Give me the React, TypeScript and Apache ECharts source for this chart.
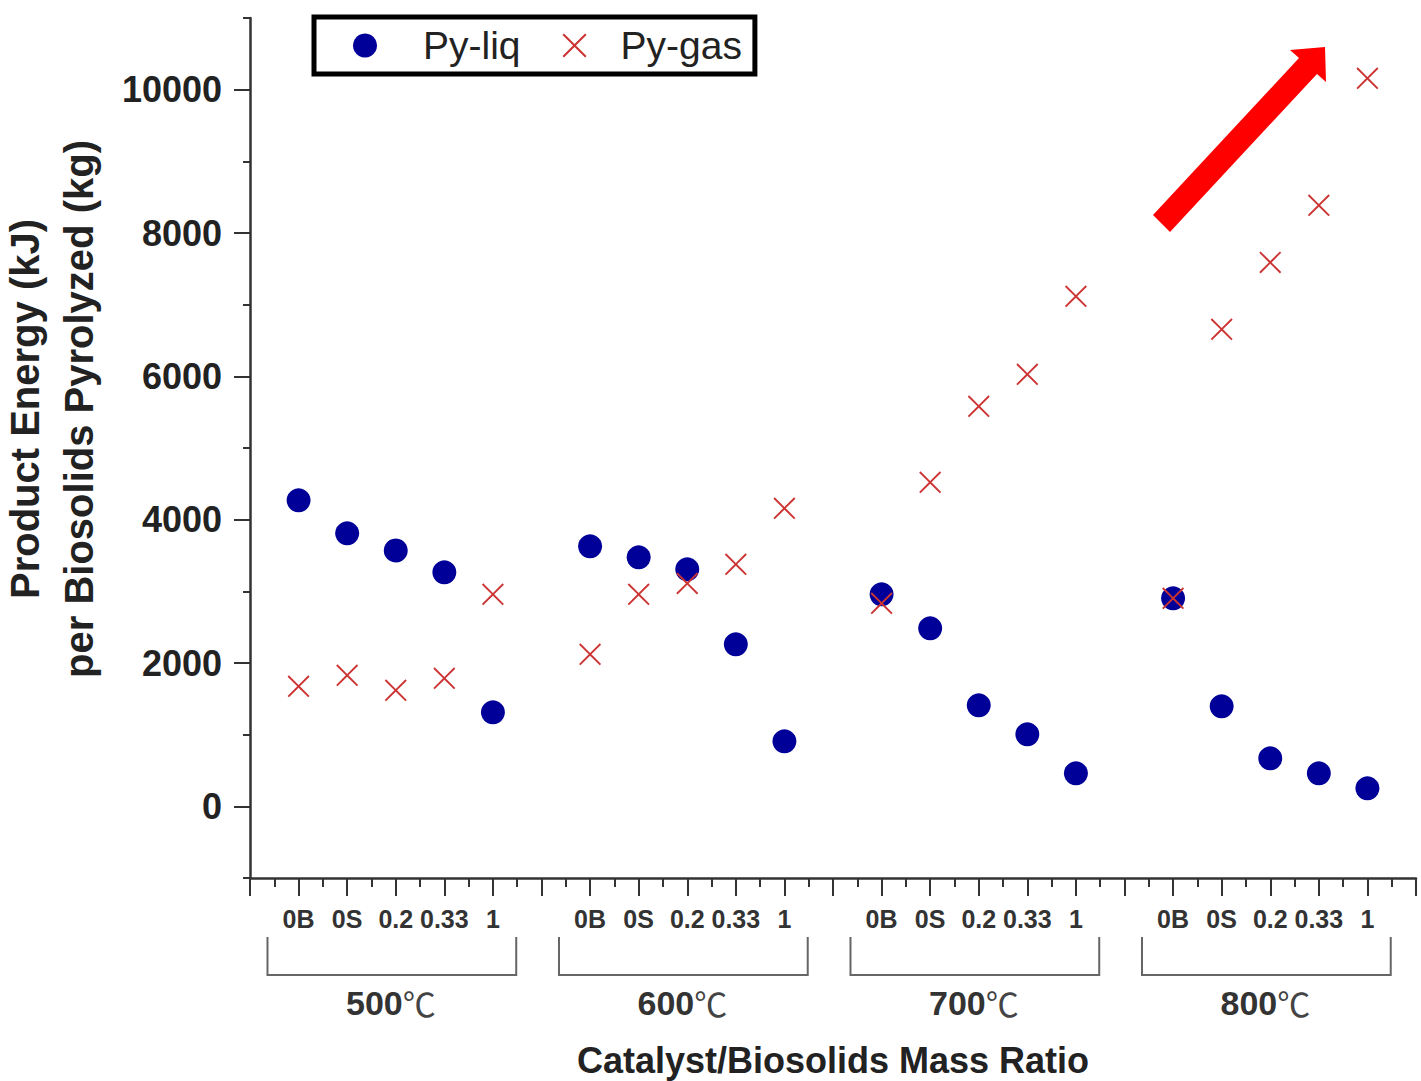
import React, { useEffect, useRef } from 'react';
import * as echarts from 'echarts';

// ---- data ----
const temperatures = ['500', '600', '700', '800'];
const ratios = ['0B', '0S', '0.2', '0.33', '1'];
const pyLiq500 = [4270, 3810, 3570, 3265, 1312];
const pyLiq600 = [3628, 3474, 3307, 2260, 907];
const pyLiq700 = [2958, 2484, 1409, 1005, 460];
const pyLiq800 = [2902, 1395, 670, 460, 251];
const pyGas500 = [1674, 1828, 1619, 1786, 2958];
const pyGas600 = [2121, 2958, 3111, 3377, 4158];
const pyGas700 = [2832, 4521, 5581, 6028, 7116];
const pyGas800 = [2902, 6656, 7590, 8386, 10158];
const yTickValues = [0, 2000, 4000, 6000, 8000, 10000];

const pyLiq = [pyLiq500, pyLiq600, pyLiq700, pyLiq800];
const pyGas = [pyGas500, pyGas600, pyGas700, pyGas800];

const FONT = '"Liberation Sans", Arial, sans-serif';
const X_ICON = 'path://M0,6L6,0L50,44L94,0L100,6L56,50L100,94L94,100L50,56L6,100L0,94L44,50Z';

const groupSize = ratios.length + 1;
const toPoints = (groups: number[][]) =>
  groups.flatMap((row, g) => row.map((v, i) => [g * groupSize + i + 1, v]));

export default function App() {
  const ref = useRef<HTMLDivElement>(null);

  useEffect(() => {
    if (!ref.current) return;
    const chart = echarts.init(ref.current, null, { renderer: 'svg' });
    const xMax = temperatures.length * groupSize;

    const option: any = {
      animation: false,
      backgroundColor: '#ffffff',
      grid: { left: 250, right: 5, top: 18, bottom: 203, containLabel: false, outerBoundsMode: 'none' },
      legend: {
        left: 314,
        top: 17,
        orient: 'horizontal',
        itemWidth: 24,
        itemHeight: 24,
        itemGap: 42,
        padding: [9, 13, 9, 39],
        borderColor: '#000000',
        borderWidth: 5,
        textStyle: { fontSize: 39, color: '#222222', fontFamily: FONT },
        data: [
          { name: 'Py-liq', icon: 'circle', textStyle: { padding: [0, 0, 0, 41] } },
          { name: 'Py-gas', icon: X_ICON, textStyle: { padding: [0, 0, 0, 29] } },
        ],
      },
      xAxis: {
        type: 'value',
        min: 0,
        max: xMax,
        interval: 1,
        axisLine: { show: true, onZero: false, lineStyle: { color: '#333333', width: 2.5 } },
        axisTick: { show: true, length: 18, lineStyle: { color: '#333333', width: 2 } },
        minorTick: { show: true, splitNumber: 2, length: 9, lineStyle: { color: '#333333', width: 2 } },
        splitLine: { show: false },
        minorSplitLine: { show: false },
        axisLabel: {
          margin: 28,
          fontSize: 25,
          fontWeight: 'bold',
          color: '#333333',
          fontFamily: FONT,
          hideOverlap: false,
          formatter: (v: number) => {
            const r = Math.round(v) % groupSize;
            return r === 0 ? '' : ratios[r - 1];
          },
        },
        name: 'Catalyst/Biosolids Mass Ratio',
        nameLocation: 'middle',
        nameGap: 164,
        nameTextStyle: { fontSize: 36, fontWeight: 'bold', color: '#222222', fontFamily: FONT },
      },
      yAxis: [
        {
          type: 'value',
          min: -1000,
          max: 11000,
          interval: 1000,
          position: 'left',
          axisLine: { show: true, onZero: false, lineStyle: { color: '#333333', width: 2.5 } },
          axisTick: { show: true, length: 7, lineStyle: { color: '#333333', width: 2 } },
          axisLabel: { show: false },
          splitLine: { show: false },
          name: 'Product Energy (kJ)\nper Biosolids Pyrolyzed (kg)',
          nameLocation: 'middle',
          nameRotate: 90,
          nameGap: 144,
          nameTextStyle: {
            fontSize: 40,
            lineHeight: 54,
            fontWeight: 'bold',
            color: '#222222',
            fontFamily: FONT,
            padding: [0, 0, 0, 78],
          },
        },
        {
          type: 'value',
          min: -1000,
          max: 11000,
          interval: 1000,
          position: 'left',
          axisLine: { show: false, onZero: false },
          axisTick: { show: true, length: 16, customValues: yTickValues, lineStyle: { color: '#333333', width: 2 } },
          axisLabel: {
            customValues: yTickValues,
            margin: 28,
            fontSize: 36,
            fontWeight: 'bold',
            color: '#222222',
            fontFamily: FONT,
            formatter: (v: number) => String(v),
          },
          splitLine: { show: false },
        },
      ],
      series: [
        {
          name: 'Py-liq',
          type: 'scatter',
          yAxisIndex: 0,
          symbol: 'circle',
          symbolSize: 24,
          itemStyle: { color: '#000099', opacity: 1 },
          data: toPoints(pyLiq),
        },
        {
          name: 'Py-gas',
          type: 'scatter',
          yAxisIndex: 0,
          symbol: X_ICON,
          symbolSize: 22,
          itemStyle: { color: '#cc3333', opacity: 1 },
          data: toPoints(pyGas),
        },
      ],
    };
    chart.setOption(option);

    // group brackets and temperature labels below the ratio labels
    const graphics: any[] = [];
    temperatures.forEach((t, g) => {
      const xl = chart.convertToPixel({ xAxisIndex: 0 }, g * groupSize + 0.36) as number;
      const xr = chart.convertToPixel({ xAxisIndex: 0 }, g * groupSize + 5.48) as number;
      const xc = chart.convertToPixel({ xAxisIndex: 0 }, g * groupSize + 2.9) as number;
      graphics.push({
        type: 'polyline',
        shape: { points: [[xl, 937], [xl, 975], [xr, 975], [xr, 937]] },
        style: { stroke: '#666666', lineWidth: 2, fill: null },
        silent: true,
      });
      graphics.push({
        type: 'text',
        x: xc,
        y: 1003,
        style: {
          text: `{n|${t}}{c|℃}`,
          align: 'center',
          verticalAlign: 'middle',
          rich: {
            n: { fontSize: 34, fontWeight: 'bold', fontFamily: FONT, fill: '#333333' },
            c: { fontSize: 33, fontFamily: '"Noto Sans CJK SC", sans-serif', fill: '#444444' },
          },
        },
        silent: true,
      });
    });
    // red arrow annotation
    graphics.push({
      type: 'polygon',
      shape: {
        points: [[1153, 215], [1299, 58], [1290, 50], [1325, 47], [1326, 82], [1317, 74], [1170, 232]],
      },
      style: { fill: '#ff0000' },
      silent: true,
    });
    chart.setOption({ graphic: graphics });

    return () => chart.dispose();
  }, []);

  return (
    <div
      ref={ref}
      style={{ position: 'fixed', left: 0, top: 0, width: 1421, height: 1081, background: '#fff' }}
    />
  );
}
